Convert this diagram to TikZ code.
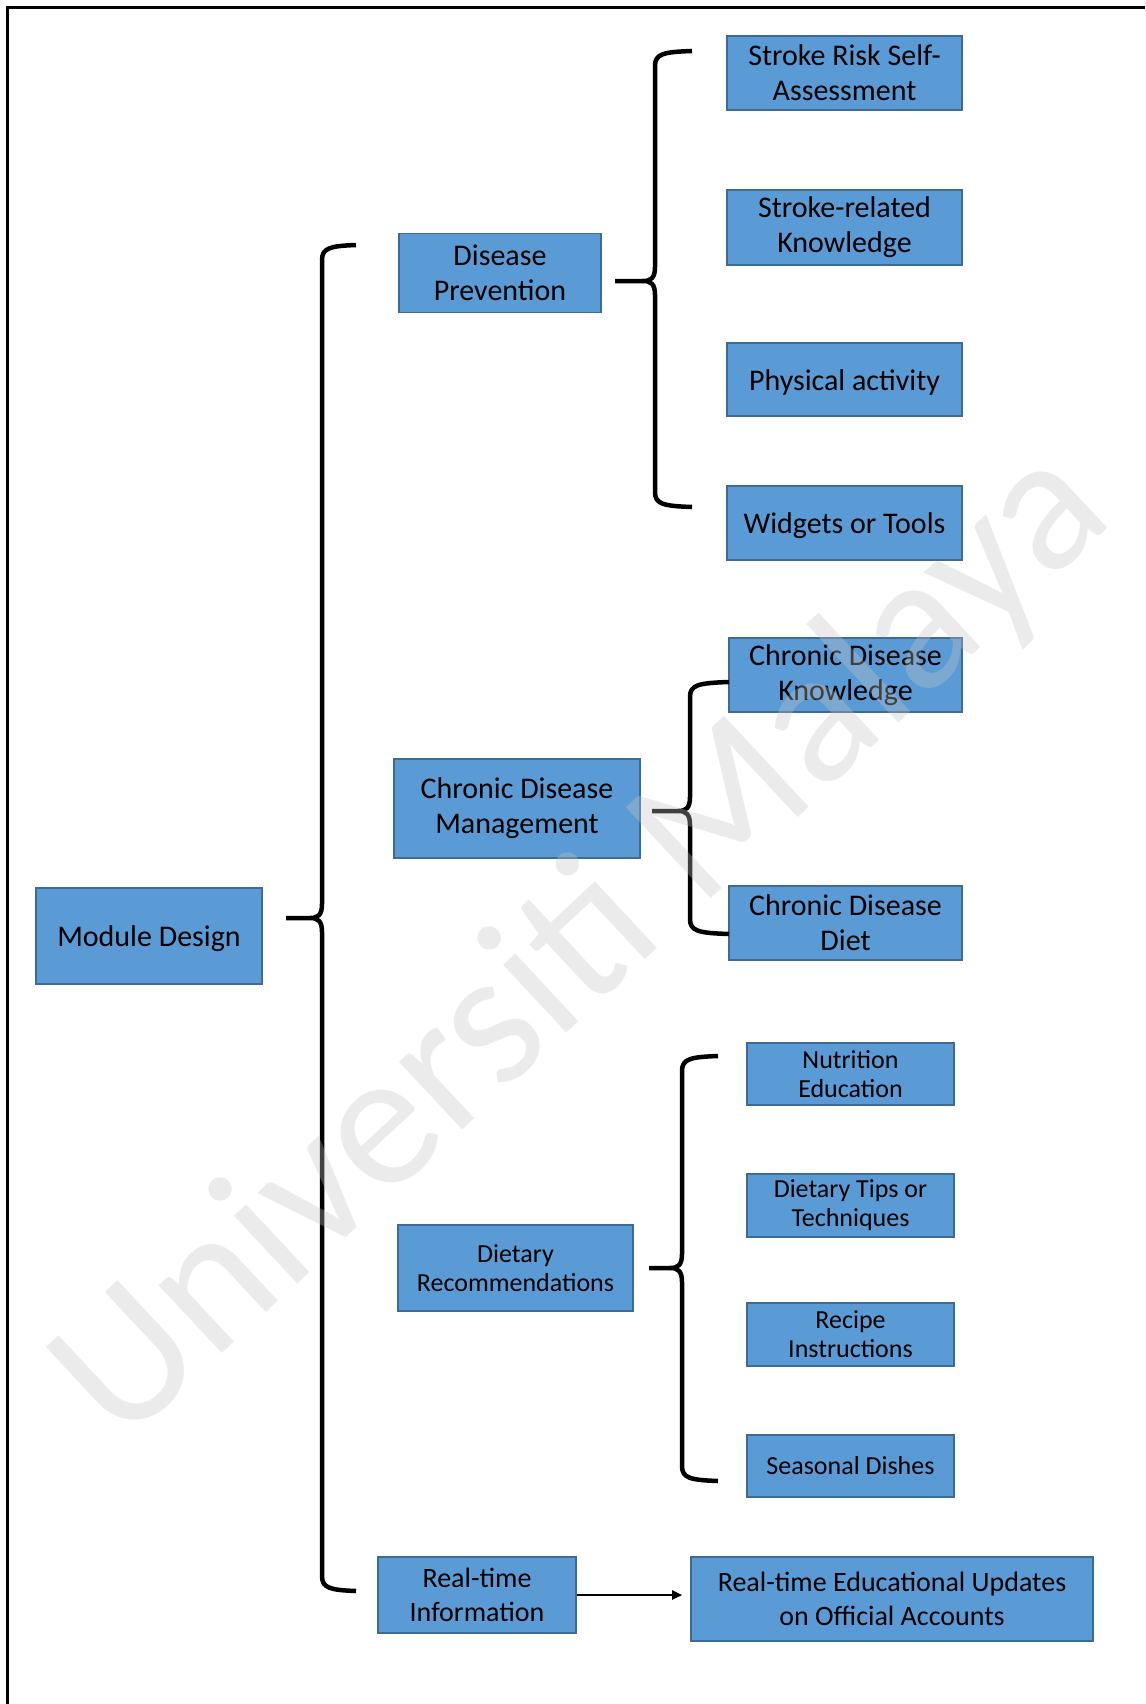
\documentclass[tikz,border=0pt]{standalone}
\usepackage{fontspec}
\setmainfont{Carlito}
\usetikzlibrary{arrows.meta,calc}
\definecolor{boxfill}{HTML}{5B9BD5}
\definecolor{boxline}{HTML}{3D6A96}
\definecolor{wmgray}{HTML}{C4C4C4}
\tikzset{
  boxbase/.style={draw=boxline, fill=boxfill, line width=1.6pt, inner sep=0pt, align=center, text=black},
  bigbox/.style={boxbase, font=\fontsize{30}{35}\selectfont, execute at begin node={\rule{0pt}{26.5pt}}},
  smallbox/.style={boxbase, font=\fontsize{26}{29}\selectfont},
  rtbox/.style={boxbase, font=\fontsize{28}{34}\selectfont, execute at begin node={\rule{0pt}{24pt}}},
  bracestyle/.style={draw=black, line width=4.5pt, line join=round},
  frameline/.style={draw=black, line width=3pt},
  arrowline/.style={draw=black, line width=2pt, -{Triangle[length=10pt,width=9pt]}},
  watermark/.style={rotate=43, text=wmgray, text opacity=0.33, inner sep=0pt,
     font=\fontsize{194}{194}\selectfont},
}
% #1 xv, #2 ytop, #3 ybot, #4 ymid, #5 xtip, #6 hook end top, #7 hook end bottom
\newcommand\mybrace[7]{%
  \draw[bracestyle] (#6,#2-1) .. controls (#1+8,#2) and (#1,#2+2) .. (#1,#2+14)
     -- (#1,#4-14) .. controls (#1,#4-3) and (#1-4,#4) .. (#1-12,#4) -- (#5,#4)
     (#1-12,#4) .. controls (#1-4,#4) and (#1,#4+3) .. (#1,#4+14)
     -- (#1,#3-14) .. controls (#1,#3-2) and (#1+8,#3) .. (#7,#3+1);%
}
\begin{document}
\begin{tikzpicture}[x=1pt,y=-1pt]
\useasboundingbox (0,0) rectangle (1145,1704);
\fill[white] (0,0) rectangle (1145,1704);
% frame
\draw[frameline] (1145,8) -- (7,8) -- (7,1704);
% nodes
\node[bigbox, minimum width=226pt, minimum height=96pt] (md) at (149,936) {Module Design};
\node[bigbox, minimum width=202pt, minimum height=79pt] (dp) at (500,273) {Disease\\Prevention};
\node[bigbox, minimum width=246pt, minimum height=99pt] (cdm) at (517,808.5) {Chronic Disease\\Management};
\node[smallbox, minimum width=235pt, minimum height=86pt] (dr) at (515.5,1268) {Dietary\\Recommendations};
\node[rtbox, minimum width=198pt, minimum height=76pt] (rti) at (477,1595) {Real-time\\Information};

\node[bigbox, minimum width=235pt, minimum height=74pt] (sr) at (844.5,73) {Stroke Risk Self-\\Assessment};
\node[bigbox, minimum width=235pt, minimum height=75pt] (sk) at (844.5,227.5) {Stroke-related\\Knowledge};
\node[bigbox, minimum width=235pt, minimum height=73pt] (pa) at (844.5,379.5) {Physical activity};
\node[bigbox, minimum width=235pt, minimum height=74pt] (wt) at (844.5,523) {Widgets or Tools};

\node[bigbox, minimum width=233pt, minimum height=74pt] (cdk) at (845.5,675) {Chronic Disease\\Knowledge};
\node[bigbox, minimum width=233pt, minimum height=74pt] (cdd) at (845.5,923) {Chronic Disease\\Diet};

\node[smallbox, minimum width=207pt, minimum height=62pt] (ne) at (850.5,1074) {Nutrition\\Education};
\node[smallbox, minimum width=207pt, minimum height=63pt] (dt) at (850.5,1205.5) {Dietary Tips or\\Techniques};
\node[smallbox, minimum width=207pt, minimum height=63pt] (ri) at (850.5,1334.5) {Recipe\\Instructions};
\node[smallbox, minimum width=207pt, minimum height=62pt] (sd) at (850.5,1466) {Seasonal Dishes};

\node[rtbox, minimum width=402pt, minimum height=84pt] (rtu) at (892,1599) {Real-time Educational Updates\\on Official Accounts};
% braces
\mybrace{322}{246}{1590}{918}{286}{356}{356}
\mybrace{655}{52}{506}{281}{615}{692}{692}
\mybrace{690}{683}{933}{811}{652}{729}{729}
\mybrace{682}{1057}{1480}{1268}{649}{718}{718}
% arrow
\draw[arrowline, shorten >=8pt] (rti.east) -- (rti.east -| rtu.west);
% watermark (on top, translucent)
\node[watermark] (wm) at (584,946) {Universiti Malaya};
\end{tikzpicture}
\end{document}
